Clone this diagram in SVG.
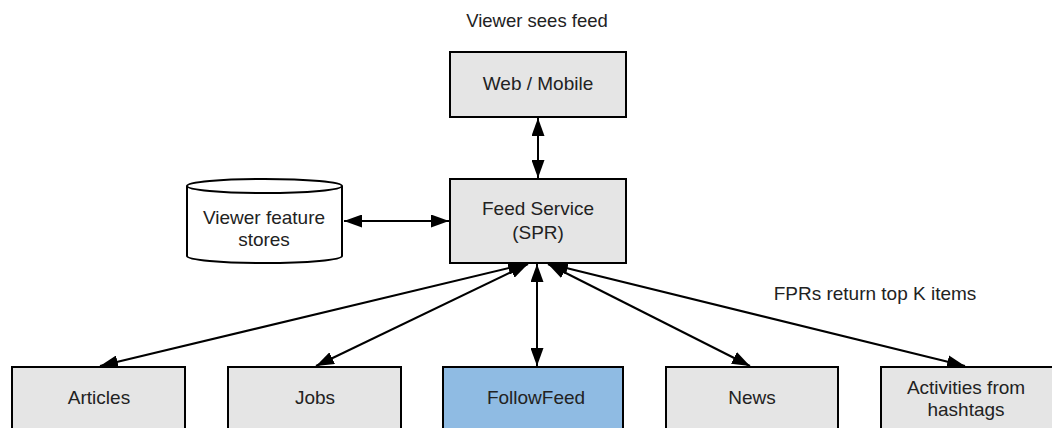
<svg xmlns="http://www.w3.org/2000/svg" width="1052" height="428" viewBox="0 0 1052 428">
<style>
.box{fill:#e5e5e5;stroke:#000;stroke-width:2}
.blue{fill:#8fbbe3;stroke:#000;stroke-width:2}
.t{font-family:"Liberation Sans",Arial,sans-serif;font-size:19px;fill:#222;text-anchor:middle;dominant-baseline:central}
.c{stroke:#000;stroke-width:2;fill:none;marker-start:url(#a);marker-end:url(#a)}
</style>
<defs>
<marker id="a" viewBox="0 0 18 13" refX="18" refY="6.5" markerWidth="18" markerHeight="13" markerUnits="userSpaceOnUse" orient="auto-start-reverse">
<path d="M0,0 L18,6.5 L0,13 Z" fill="#000"/>
</marker>
</defs>
<rect width="1052" height="428" fill="#fff"/>
<text class="t" x="537" y="20" style="font-size:18.5px">Viewer sees feed</text>
<text class="t" x="875" y="293">FPRs return top K items</text>
<g id="connectors">
<line class="c" x1="538" y1="118" x2="538" y2="178"/>
<line class="c" x1="344" y1="221" x2="449" y2="221"/>
<line class="c" x1="526" y1="264" x2="100" y2="366"/>
<line class="c" x1="528" y1="264" x2="316" y2="366"/>
<line class="c" x1="537" y1="264" x2="537" y2="366"/>
<line class="c" x1="548" y1="264" x2="750" y2="366"/>
<line class="c" x1="550" y1="264" x2="965" y2="366"/>
</g>
<g id="web"><rect class="box" x="450" y="52" width="176" height="65"/><text class="t" x="538" y="83">Web / Mobile</text></g>
<g id="feed"><rect class="box" x="450" y="179" width="176" height="84"/><text class="t" x="538" y="208">Feed Service</text><text class="t" x="538" y="232">(SPR)</text></g>
<g id="store">
<path d="M187,186 L187,256 A77.5,7 0 0 0 342,256 L342,186 A77.5,7 0 0 0 187,186 Z" fill="#fff" stroke="#000" stroke-width="2"/>
<path d="M187,186 A77.5,7 0 0 0 342,186" fill="none" stroke="#000" stroke-width="2"/>
<text class="t" x="264" y="217">Viewer feature</text><text class="t" x="264" y="239">stores</text>
</g>
<g id="articles"><rect class="box" x="12" y="367" width="173" height="70"/><text class="t" x="99" y="397">Articles</text></g>
<g id="jobs"><rect class="box" x="228" y="367" width="173" height="70"/><text class="t" x="315" y="397">Jobs</text></g>
<g id="followfeed"><rect class="blue" x="443" y="367" width="180" height="70"/><text class="t" x="536" y="397">FollowFeed</text></g>
<g id="news"><rect class="box" x="666" y="367" width="172" height="70"/><text class="t" x="752" y="397">News</text></g>
<g id="activities"><rect class="box" x="881" y="367" width="173" height="70"/><text class="t" x="966" y="387">Activities from</text><text class="t" x="966" y="409">hashtags</text></g>
</svg>
